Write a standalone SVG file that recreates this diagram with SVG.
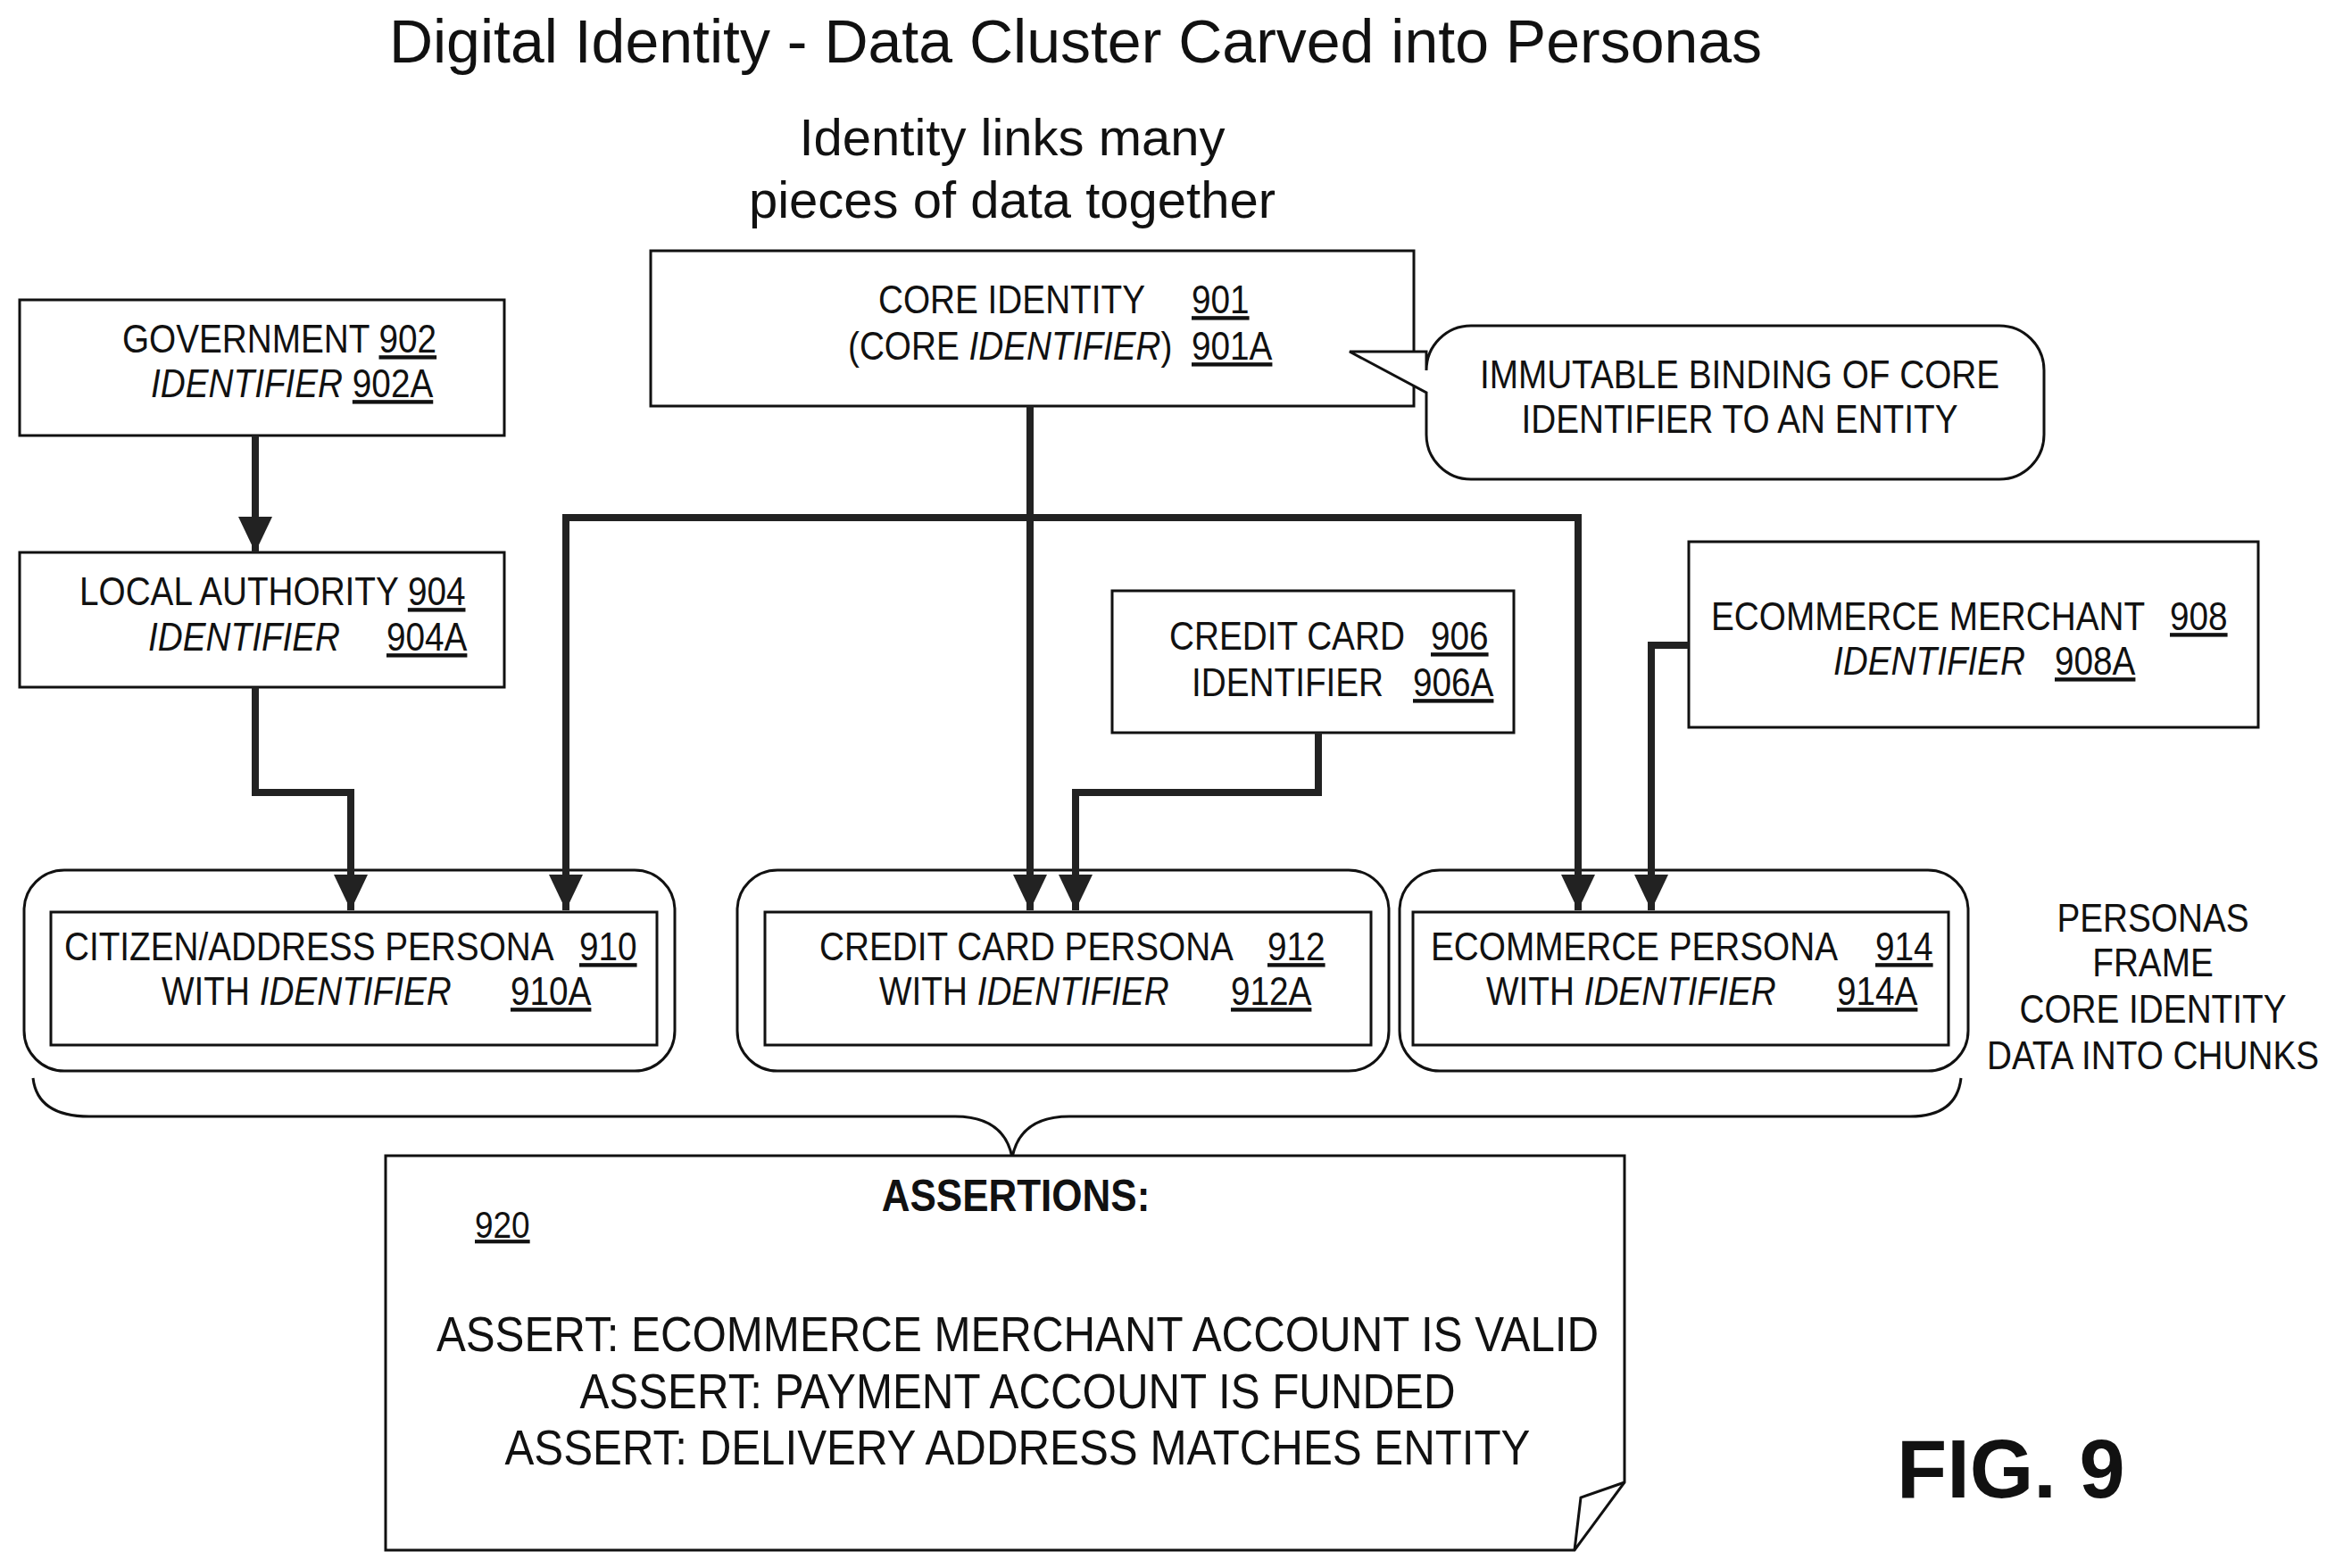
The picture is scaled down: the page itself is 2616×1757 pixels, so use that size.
<svg xmlns="http://www.w3.org/2000/svg" width="2616" height="1757" viewBox="0 0 2616 1757">
<style>
text{font-family:"Liberation Sans",Arial,sans-serif;fill:#111}
.t,.m,.a{transform-box:fill-box;transform:scaleX(0.88)}
.t{font-size:44px;transform-origin:0% 50%}
.m{font-size:44px;text-anchor:middle;transform-origin:50% 50%}
.a{font-size:56px;text-anchor:middle;transform-origin:50% 50%}
.u{text-decoration:underline}
.i{font-style:italic}
.box{fill:#fff;stroke:#111;stroke-width:3}
.c{fill:none;stroke:#222;stroke-width:8}
</style>
<defs>
<marker id="ad" markerUnits="userSpaceOnUse" markerWidth="40" markerHeight="38" refX="40" refY="19" orient="auto" viewBox="0 0 40 38">
<path d="M0,0 L40,19 L0,38 Z" fill="#222"/>
</marker>
</defs>
<text x="1205" y="70" text-anchor="middle" style="font-size:68px">Digital Identity - Data Cluster Carved into Personas</text>
<text x="1134" y="174" text-anchor="middle" style="font-size:58px">Identity links many</text>
<text x="1134" y="244" text-anchor="middle" style="font-size:58px">pieces of data together</text>

<g id="n902"><rect class="box" x="22" y="336" width="543" height="152"/>
<text class="t" x="137" y="395">GOVERNMENT  <tspan class="u">902</tspan></text>
<text class="t" x="169" y="445"><tspan class="i">IDENTIFIER</tspan> <tspan class="u">902A</tspan></text></g>

<g id="n904"><rect class="box" x="22" y="619" width="543" height="151"/>
<text class="t" x="89" y="678">LOCAL AUTHORITY <tspan class="u">904</tspan></text>
<text class="t i" x="166" y="729">IDENTIFIER</text><text class="t u" x="433" y="729">904A</text></g>

<g id="n901"><rect class="box" x="729" y="281" width="855" height="174"/>
<text class="t" x="984" y="351">CORE IDENTITY</text><text class="t u" x="1335" y="351">901</text>
<text class="t" x="950" y="403">(CORE <tspan class="i">IDENTIFIER</tspan>)</text><text class="t u" x="1335" y="403">901A</text></g>

<g id="callout">
<path class="box" d="M1648,365 H2240 A50,50 0 0 1 2290,415 V487 A50,50 0 0 1 2240,537 H1648 A50,50 0 0 1 1598,487 V440 L1512,394 H1598 V415 A50,50 0 0 1 1648,365 Z"/>
<text class="m" x="1949" y="435">IMMUTABLE BINDING OF CORE</text>
<text class="m" x="1949" y="485">IDENTIFIER TO AN ENTITY</text></g>

<g id="n906"><rect class="box" x="1246" y="662" width="450" height="159"/>
<text class="t" x="1310" y="728">CREDIT CARD</text><text class="t u" x="1603" y="728">906</text>
<text class="t" x="1335" y="780">IDENTIFIER</text><text class="t u" x="1583" y="780">906A</text></g>

<g id="n908"><rect class="box" x="1892" y="607" width="638" height="208"/>
<text class="t" x="1917" y="706">ECOMMERCE MERCHANT</text><text class="t u" x="2431" y="706">908</text>
<text class="t i" x="2054" y="756">IDENTIFIER</text><text class="t u" x="2302" y="756">908A</text></g>

<g id="n910"><rect class="box" x="27" y="975" width="729" height="225" rx="45"/>
<rect class="box" x="57" y="1022" width="679" height="149"/>
<text class="t" x="72" y="1076">CITIZEN/ADDRESS PERSONA</text><text class="t u" x="649" y="1076">910</text>
<text class="t" x="181" y="1126">WITH <tspan class="i">IDENTIFIER</tspan></text><text class="t u" x="572" y="1126">910A</text></g>

<g id="n912"><rect class="box" x="826" y="975" width="730" height="225" rx="45"/>
<rect class="box" x="857" y="1022" width="679" height="149"/>
<text class="t" x="918" y="1076">CREDIT CARD PERSONA</text><text class="t u" x="1420" y="1076">912</text>
<text class="t" x="985" y="1126">WITH <tspan class="i">IDENTIFIER</tspan></text><text class="t u" x="1379" y="1126">912A</text></g>

<g id="n914"><rect class="box" x="1568" y="975" width="637" height="225" rx="45"/>
<rect class="box" x="1583" y="1022" width="600" height="149"/>
<text class="t" x="1603" y="1076">ECOMMERCE PERSONA</text><text class="t u" x="2101" y="1076">914</text>
<text class="t" x="1665" y="1126">WITH <tspan class="i">IDENTIFIER</tspan></text><text class="t u" x="2058" y="1126">914A</text></g>

<g id="connectors">
<path class="c" d="M286,488 V619" marker-end="url(#ad)"/>
<path class="c" d="M286,770 V888 H393 V1020" marker-end="url(#ad)"/>
<path class="c" d="M1154,455 V1020" marker-end="url(#ad)"/>
<path class="c" d="M1154,580 H634 V1020" marker-end="url(#ad)"/>
<path class="c" d="M1154,580 H1768 V1020" marker-end="url(#ad)"/>
<path class="c" d="M1477,821 V888 H1205 V1020" marker-end="url(#ad)"/>
<path class="c" d="M1892,723 H1850 V1020" marker-end="url(#ad)"/>
</g>

<g id="side">
<text class="m" x="2412" y="1044">PERSONAS</text>
<text class="m" x="2412" y="1094">FRAME</text>
<text class="m" x="2412" y="1146">CORE IDENTITY</text>
<text class="m" x="2412" y="1198">DATA INTO CHUNKS</text></g>

<path d="M37,1208 Q42,1251 100,1251 H1070 Q1125,1251 1134,1297 Q1143,1251 1198,1251 H2140 Q2192,1251 2197,1208" fill="none" stroke="#111" stroke-width="3"/>

<g id="n920">
<path class="box" d="M432,1295 H1820 V1661 L1764,1737 H432 Z"/>
<path d="M1820,1661 L1771,1678 L1764,1737" fill="none" stroke="#111" stroke-width="3"/>
<text class="m" x="1138" y="1357" style="font-size:50px;font-weight:bold">ASSERTIONS:</text>
<text class="t u" x="532" y="1387" style="font-size:42px">920</text>
<text class="a" x="1140" y="1514">ASSERT: ECOMMERCE MERCHANT ACCOUNT IS VALID</text>
<text class="a" x="1140" y="1578">ASSERT: PAYMENT ACCOUNT IS FUNDED</text>
<text class="a" x="1140" y="1641">ASSERT: DELIVERY ADDRESS MATCHES ENTITY</text></g>

<text x="2125" y="1678" style="font-size:92px;font-weight:bold">FIG. 9</text>
</svg>
